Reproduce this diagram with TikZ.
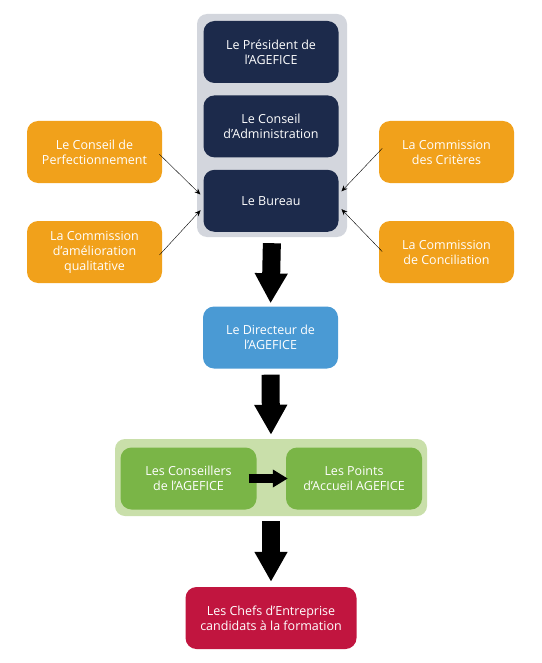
\documentclass[tikz,border=0pt]{standalone}
\usepackage{fontspec}
\setmainfont{Open Sans}
\usepackage{xcolor}
\usepackage{tikz}
\usetikzlibrary{arrows.meta,positioning}

\definecolor{navyblue}{HTML}{1C2A4B}
\definecolor{greybg}{HTML}{D3D6DD}
\definecolor{orangefill}{HTML}{F1A11B}
\definecolor{bluefill}{HTML}{4A9AD4}
\definecolor{greenbg}{HTML}{C9DFAA}
\definecolor{greenfill}{HTML}{7AB547}
\definecolor{crimson}{HTML}{C1153F}

\tikzset{
  box/.style={rounded corners=11pt, text=white, align=center,
    minimum width=135pt, minimum height=62pt, inner sep=2pt,
    font=\fontsize{12.5}{15}\selectfont},
  navybox/.style={box, fill=navyblue},
  orangebox/.style={box, fill=orangefill},
  bluebox/.style={box, fill=bluefill},
  greenbox/.style={box, fill=greenfill, minimum width=136pt},
  redbox/.style={box, fill=crimson, minimum width=171pt},
  groupbg/.style={rounded corners=10pt, inner sep=0pt},
  thinarrow/.style={thin, -{Stealth[length=6pt,width=5pt]}},
  bigarrow/.style={line width=18pt, -{Triangle[length=30pt,width=31pt]}},
}

\begin{document}
\begin{tikzpicture}[x=1pt,y=-1pt]
\useasboundingbox (0,0) rectangle (541,663);

% backgrounds
\node[groupbg, fill=greybg, minimum width=150pt, minimum height=223pt] (topgroup) at (272,125.5) {};
\node[groupbg, fill=greenbg, minimum width=312pt, minimum height=77pt] (greengroup) at (271,477.5) {};

% top block
\node[navybox] (president) at (271,52) {Le Président de\\l’AGEFICE};
\node[navybox, below=12pt of president] (conseil) {Le Conseil\\d’Administration};
\node[navybox, below=12pt of conseil] (bureau) {Le Bureau};

% commissions
\node[orangebox] (perf) at (94.5,152) {Le Conseil de\\Perfectionnement};
\node[orangebox] (amelio) at (94.5,252) {La Commission\\d’amélioration\\qualitative};
\node[orangebox] (criteres) at (446.5,152) {La Commission\\des Critères};
\node[orangebox] (concil) at (446.5,252) {La Commission\\de Conciliation};

\node[bluebox] (directeur) at (270.5,337.5) {Le Directeur de\\l’AGEFICE};

\node[greenbox] (conseillers) at (188.5,478.5) {Les Conseillers\\de l’AGEFICE};
\node[greenbox] (points) at (354,478.5) {Les Points\\d’Accueil AGEFICE};

\node[redbox] (chefs) at (271,618) {Les Chefs d’Entreprise\\candidats à la formation};

% thin arrows to the bureau
\draw[thinarrow, shorten <=-4pt, shorten >=4pt] ([yshift=-5pt]perf.east) -- ([yshift=3.5pt]bureau.west);
\draw[thinarrow, shorten <=-4pt, shorten >=4pt] (amelio.east) -- ([yshift=-6.5pt]bureau.west);
\draw[thinarrow, shorten <=-5pt, shorten >=4pt] (criteres.west) -- ([yshift=6.5pt]bureau.east);
\draw[thinarrow, shorten <=-5pt, shorten >=4pt] ([yshift=4pt]concil.west) -- ([yshift=-5.5pt]bureau.east);

% big arrows
\draw[bigarrow, shorten <=6pt, shorten >=3pt] (topgroup.south) -- (directeur.north);
\draw[bigarrow, shorten <=6pt, shorten >=4pt] (directeur.south) -- (greengroup.north);
\draw[bigarrow, shorten <=5pt, shorten >=5pt] (greengroup.south) -- (chefs.north);
\draw[line width=9pt, -{Triangle[length=15pt,width=17pt]}, shorten <=-8pt, shorten >=-2pt]
  (conseillers.east) -- (points.west);
\end{tikzpicture}
\end{document}
